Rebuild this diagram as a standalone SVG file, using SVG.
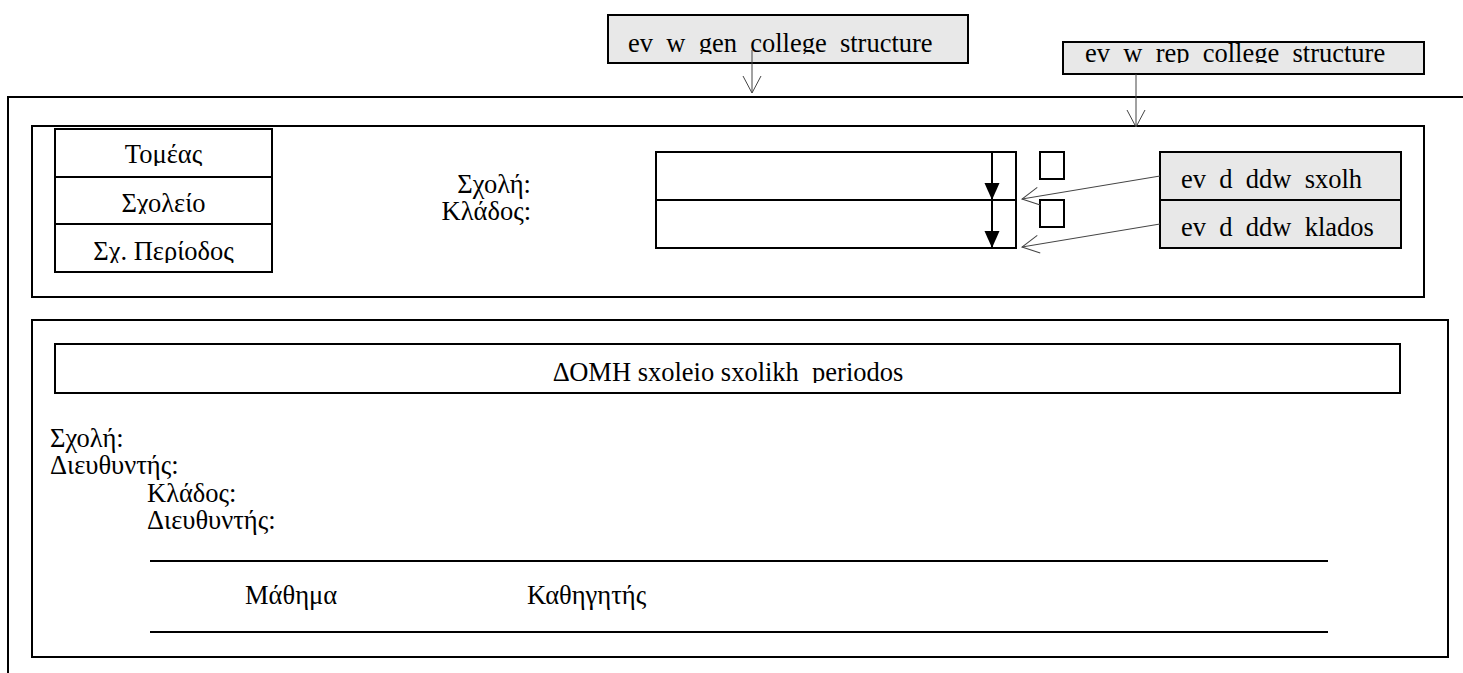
<svg xmlns="http://www.w3.org/2000/svg" width="1463" height="673" viewBox="0 0 1463 673">
<style>
text{font-family:"Liberation Serif","Times New Roman",serif;font-size:26.5px;fill:#000;white-space:pre}
.box{fill:#fff;stroke:#000;stroke-width:2}
.gbox{fill:#e8e8e8;stroke:#000;stroke-width:2}
.ln{stroke:#000;stroke-width:2;fill:none}
.con{stroke:#444;stroke-width:1;fill:none}
.mid{text-anchor:middle}
.end{text-anchor:end}
</style>
<defs>
<marker id="open" viewBox="-20 -11 22 22" refX="0" refY="0" markerWidth="22" markerHeight="22" markerUnits="userSpaceOnUse" orient="auto">
<path d="M-17,-9 L0,0 L-17,9" fill="none" stroke="#444" stroke-width="1"/>
</marker>
<marker id="solid" viewBox="-18 -8 19 16" refX="0" refY="0" markerWidth="19" markerHeight="16" markerUnits="userSpaceOnUse" orient="auto">
<path d="M-17,-7.5 L0,0 L-17,7.5 Z" fill="#000"/>
</marker>
<clipPath id="cGen"><rect x="608" y="15" width="360" height="39"/></clipPath>
<clipPath id="cRep"><rect x="1063" y="42" width="361" height="21"/></clipPath>
<clipPath id="cT1"><rect x="55" y="129" width="217" height="37"/></clipPath>
<clipPath id="cT2"><rect x="55" y="177" width="217" height="37"/></clipPath>
<clipPath id="cT3"><rect x="55" y="224" width="217" height="39"/></clipPath>
<clipPath id="cHead"><rect x="55" y="344" width="1345" height="39"/></clipPath>
</defs>
<rect width="1463" height="673" fill="#fff"/>

<g id="outer-frame">
<path class="ln" d="M8,673 L8,97 L1463,97" stroke-width="1.6"/>
</g>

<g id="top-panel">
<rect class="box" x="32" y="126" width="1392" height="171"/>
</g>

<g id="tabs">
<rect class="box" x="55" y="129" width="217" height="143"/>
<line class="ln" x1="55" y1="177" x2="272" y2="177"/>
<line class="ln" x1="55" y1="224" x2="272" y2="224"/>
<text class="mid" x="163.5" y="163" clip-path="url(#cT1)">Τομέας</text>
<text class="mid" x="163.5" y="212" clip-path="url(#cT2)">Σχολείο</text>
<text class="mid" x="163.5" y="260" clip-path="url(#cT3)">Σχ. Περίοδος</text>
</g>

<g id="filter-labels">
<text class="end" x="531" y="193">Σχολή:</text>
<text class="end" x="531" y="220">Κλάδος:</text>
</g>

<g id="combo-sxolh">
<rect class="box" x="656" y="152" width="360" height="48"/>
<line class="ln" x1="992" y1="152" x2="992" y2="200" marker-end="url(#solid)"/>
</g>
<g id="combo-klados">
<rect class="box" x="656" y="200" width="360" height="48"/>
<line class="ln" x1="992" y1="200" x2="992" y2="248" marker-end="url(#solid)"/>
</g>

<g id="check-sxolh"><rect class="box" x="1040" y="152" width="24" height="27"/></g>
<g id="check-klados"><rect class="box" x="1040" y="200" width="24" height="27"/></g>

<g id="ev-d-ddw-sxolh">
<rect class="gbox" x="1160" y="152" width="241" height="48"/>
<text x="1181" y="188">ev  d  ddw  sxolh</text>
</g>
<g id="ev-d-ddw-klados">
<rect class="gbox" x="1160" y="200" width="241" height="48"/>
<text x="1181" y="236">ev  d  ddw  klados</text>
</g>

<g id="ev-w-gen-college-structure">
<rect class="gbox" x="608" y="15" width="360" height="48"/>
<text x="628" y="52" clip-path="url(#cGen)">ev  w  gen  college  structure</text>
</g>

<g id="ev-w-rep-college-structure">
<rect class="gbox" x="1063" y="42" width="361" height="32"/>
<text x="1085" y="62" clip-path="url(#cRep)">ev  w  rep  college  structure</text>
</g>

<g id="structure-panel">
<rect class="box" x="32" y="320" width="1416" height="337"/>
</g>

<g id="structure-header">
<rect class="box" x="55" y="344" width="1345" height="49"/>
<text class="mid" x="728" y="381" clip-path="url(#cHead)">ΔΟΜΗ sxoleio sxolikh  periodos</text>
</g>

<g id="structure-body">
<text x="50" y="447">Σχολή:</text>
<text x="50" y="474">Διευθυντής:</text>
<text x="147" y="502">Κλάδος:</text>
<text x="147" y="529">Διευθυντής:</text>
<line class="ln" x1="150" y1="561" x2="1328" y2="561"/>
<text x="245" y="604">Μάθημα</text>
<text x="527" y="604">Καθηγητής</text>
<line class="ln" x1="150" y1="632" x2="1328" y2="632"/>
</g>

<g id="connectors">
<line class="con" x1="752" y1="50" x2="752" y2="93" marker-end="url(#open)"/>
<line class="con" x1="1136" y1="74" x2="1136" y2="127" marker-end="url(#open)"/>
<line class="con" x1="1160" y1="176" x2="1022" y2="199" marker-end="url(#open)"/>
<line class="con" x1="1160" y1="224" x2="1022" y2="247" marker-end="url(#open)"/>
</g>
</svg>
